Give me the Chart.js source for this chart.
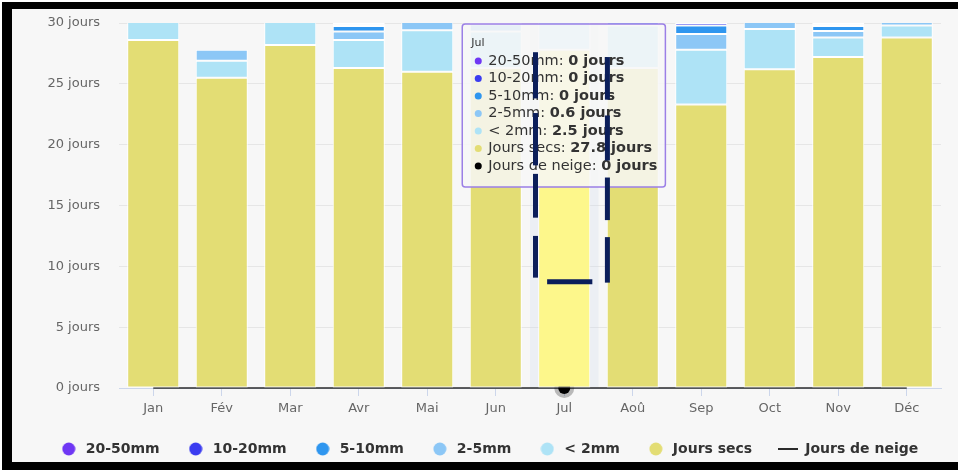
<!DOCTYPE html>
<html>
<head>
<meta charset="utf-8">
<script src="https://cdn.jsdelivr.net/npm/chart.js@4.4.0/dist/chart.umd.min.js"></script>
<style>
  html, body { margin: 0; padding: 0; background: #fff; }
  #frame {
    position: absolute; left: 2px; top: 2px; width: 946px; height: 453px;
    border-style: solid; border-color: #000; border-width: 7px 0 8px 10px;
    background: #f7f7f7;
  }
  #frame canvas { display: block; }
</style>
</head>
<body>
<div id="frame"><canvas id="chart" width="946" height="453"></canvas></div>
<script>
// ===== Data (days per month) =====
const MONTHS     = ['Jan','Fév','Mar','Avr','Mai','Jun','Jul','Aoû','Sep','Oct','Nov','Déc'];
const DRY        = [28.6, 25.5, 28.2, 26.3, 26.0, 26.3, 27.8, 26.3, 23.3, 26.2, 27.2, 28.8];
const RAIN_LT2   = [2.2, 1.4, 2.5, 2.3, 3.4, 3.0, 2.5, 3.5, 4.5, 3.3, 1.6, 1.0];
const RAIN_2_5   = [0.2, 0.9, 0.3, 0.7, 1.0, 0.6, 0.6, 0.8, 1.3, 1.0, 0.55, 0.8];
const RAIN_5_10  = [0, 0, 0, 0.45, 0.4, 0.1, 0, 0.3, 0.7, 0.4, 0.4, 0.3];
const RAIN_10_20 = [0, 0, 0, 0.15, 0.2, 0, 0, 0.1, 0.2, 0.1, 0.15, 0.1];
const RAIN_20_50 = [0, 0, 0, 0.1, 0, 0, 0, 0, 0, 0, 0.1, 0];
const SNOW       = [0, 0, 0, 0, 0, 0, 0, 0, 0, 0, 0, 0];
const Y_TICKS    = [0, 5, 10, 15, 20, 25, 30];
const UNIT       = 'jours';

// hovered month (tooltip + highlight)
const HOVER = MONTHS.indexOf('Jul');

const FONT = '"DejaVu Sans", sans-serif';
const TEXT = '#333333';
const AXIS = '#666666';

// ── Markers for the legend ─────────────────────────────────────────────────

function dotMarker(color) {
  const c = document.createElement('canvas');
  c.width = 14; c.height = 14;
  const g = c.getContext('2d');
  g.fillStyle = color;
  g.beginPath(); g.arc(7, 7, 6.5, 0, Math.PI * 2); g.fill();
  return c;
}

function lineMarker(color) {
  const c = document.createElement('canvas');
  c.width = 20; c.height = 2;
  const g = c.getContext('2d');
  g.fillStyle = color;
  g.fillRect(0, 0, 20, 2);
  return c;
}

function bar(label, data, color, hover) {
  return {
    type: 'bar', label, data, stack: 'days',
    backgroundColor: ctx => ctx.dataIndex === HOVER ? hover : color,
    borderColor: '#ffffff', borderWidth: 1, borderSkipped: false,
    categoryPercentage: 0.8, barPercentage: 0.95,
    clip: 0,
    marker: dotMarker(color), dot: color,
  };
}

// stacking order: bottom → top
const datasets = [
  bar('Jours secs', DRY,        '#e3dd74', '#fdf78b'),
  bar('< 2mm',      RAIN_LT2,   '#aee3f6', '#c4ecfa'),
  bar('2-5mm',      RAIN_2_5,   '#8cc7f6', '#a6d5f9'),
  bar('5-10mm',     RAIN_5_10,  '#2f96ef', '#4aa6f3'),
  bar('10-20mm',    RAIN_10_20, '#3b3cf0', '#5556f3'),
  bar('20-50mm',    RAIN_20_50, '#6f37f4', '#8552f6'),
  {
    type: 'line', label: 'Jours de neige', data: SNOW, stack: 'snow',
    borderColor: '#2b2b2b', borderWidth: 1.5, clip: false,
    pointRadius: ctx => ctx.dataIndex === HOVER ? 6 : 0,
    pointBackgroundColor: '#000', pointBorderColor: 'rgba(0,0,0,0.25)', pointBorderWidth: 8,
    marker: lineMarker('#2b2b2b'), dot: '#000',
  },
];

// legend / tooltip order: biggest rain class first, snow last
const rank = i => i === 6 ? 6 : 5 - i;
const ORDER = datasets.map((_, i) => i).sort((a, b) => rank(a) - rank(b));

const fmt = v => `${v} ${UNIT}`;

// ── Hover decorations: crosshair band, tooltip, hand-drawn markup ─────────

// dashed markup over the hovered column (x in category widths, y in days)
const MARK_LEFT  = { dx: -0.42, dashes: [[27.6, 23.8], [22.6, 18.3], [17.6, 14.0], [12.5, 9.07]] };
const MARK_RIGHT = { dx: 0.63,  dashes: [[27.2, 23.7], [22.4, 18.7], [17.3, 13.8], [12.4, 8.66]] };
const MARK_BASE  = { from: -0.25, to: 0.41, y: 8.74 };

const LEGEND_SHIFT = 12;

const hoverPlugin = {
  id: 'hoverJul',
  afterLayout(chart) {
    // the legend sits a little right of the plot centre in the original
    chart.legend.left += LEGEND_SHIFT;
    chart.legend.right += LEGEND_SHIFT;
  },
  beforeDatasetsDraw(chart) {
    const { ctx, chartArea, scales: { x } } = chart;
    const w = x.width / MONTHS.length;
    const cx = x.getPixelForValue(HOVER);
    ctx.save();
    ctx.fillStyle = 'rgba(204,214,235,0.25)';
    ctx.fillRect(cx - w / 2, chartArea.top, w, chartArea.bottom - chartArea.top);
    ctx.restore();
  },
  afterDraw(chart) {
    const { ctx, chartArea, scales: { x, y } } = chart;
    const cx = x.getPixelForValue(HOVER);
    const cw = x.width / MONTHS.length;
    const normal = `14.5px ${FONT}`;
    const bold = `bold 14.5px ${FONT}`;

    // tooltip
    ctx.save();
    let maxW = 0;
    ORDER.forEach(i => {
      const ds = chart.data.datasets[i];
      ctx.font = normal;
      const a = ctx.measureText(ds.label + ': ').width;
      ctx.font = bold;
      const b = ctx.measureText(fmt(ds.data[HOVER])).width;
      maxW = Math.max(maxW, a + b);
    });
    const left = cx - 102, top = chartArea.top + 1;
    const w = maxW + 34, h = 163;
    ctx.beginPath();
    ctx.roundRect(left, top, w, h, 3);
    ctx.fillStyle = 'rgba(247,247,247,0.85)';
    ctx.fill();
    ctx.lineWidth = 1.5;
    ctx.strokeStyle = '#9b7fe6';
    ctx.stroke();

    ctx.textBaseline = 'middle';
    ctx.fillStyle = TEXT;
    ctx.font = `11px ${FONT}`;
    ctx.fillText(MONTHS[HOVER], left + 9, top + 19);
    ORDER.forEach((i, k) => {
      const ds = chart.data.datasets[i];
      const ry = top + 37 + k * 17.5;
      ctx.fillStyle = ds.dot;
      ctx.beginPath(); ctx.arc(left + 16, ry, 3.5, 0, Math.PI * 2); ctx.fill();
      ctx.fillStyle = TEXT;
      ctx.font = normal;
      const lbl = ds.label + ': ';
      ctx.fillText(lbl, left + 26, ry);
      const lw = ctx.measureText(lbl).width;
      ctx.font = bold;
      ctx.fillText(fmt(ds.data[HOVER]), left + 26 + lw, ry);
    });
    ctx.restore();

    // dashed markup drawn on top of everything
    ctx.save();
    ctx.strokeStyle = '#0b1e5b';
    ctx.lineWidth = 5;
    ctx.lineCap = 'butt';
    [MARK_LEFT, MARK_RIGHT].forEach(m => {
      const px = cx + m.dx * cw;
      m.dashes.forEach(([a, b]) => {
        ctx.beginPath();
        ctx.moveTo(px, y.getPixelForValue(a));
        ctx.lineTo(px, y.getPixelForValue(b));
        ctx.stroke();
      });
    });
    const by = y.getPixelForValue(MARK_BASE.y);
    ctx.beginPath();
    ctx.moveTo(cx + MARK_BASE.from * cw, by);
    ctx.lineTo(cx + MARK_BASE.to * cw, by);
    ctx.stroke();
    ctx.restore();
  },
};

Chart.defaults.font.family = FONT;

new Chart(document.getElementById('chart'), {
  data: { labels: MONTHS, datasets },
  options: {
    responsive: false,
    animation: false,
    events: [],
    layout: { padding: { top: 14, right: 17, bottom: -4, left: 0 } },
    scales: {
      x: {
        stacked: true,
        grid: { display: true, drawOnChartArea: false, drawTicks: true, tickLength: 8, color: '#ccd6eb', offset: false },
        border: { display: true, color: '#ccd6eb', width: 1 },
        ticks: { color: AXIS, font: { size: 13 }, padding: 5, maxRotation: 0 },
        afterFit: s => { s.height = 28; },
      },
      y: {
        stacked: true,
        min: 0, max: 30,
        afterBuildTicks: s => { s.ticks = Y_TICKS.map(v => ({ value: v })); },
        // invisible tick marks give the gap between labels and plot
        grid: { color: '#e6e6e6', drawTicks: true, tickLength: 19, tickColor: 'transparent' },
        border: { display: false },
        ticks: { color: AXIS, font: { size: 13 }, padding: 0, callback: v => `${v} ${UNIT}` },
        afterFit: s => { s.width = 107; },
      },
    },
    plugins: {
      tooltip: { enabled: false },
      legend: {
        position: 'bottom',
        labels: {
          usePointStyle: true,
          pointStyleWidth: 20,
          boxHeight: 13,
          padding: 26,
          color: TEXT,
          font: { size: 14, weight: 'bold' },
          generateLabels: chart => chart.data.datasets.map((ds, i) => ({
            text: ds.label, datasetIndex: i, pointStyle: ds.marker,
            fillStyle: 'transparent', strokeStyle: 'transparent', lineWidth: 0,
            fontColor: TEXT, hidden: false,
          })),
          sort: (a, b) => rank(a.datasetIndex) - rank(b.datasetIndex),
        },
      },
    },
  },
  plugins: [hoverPlugin],
});
</script>
</body>
</html>
